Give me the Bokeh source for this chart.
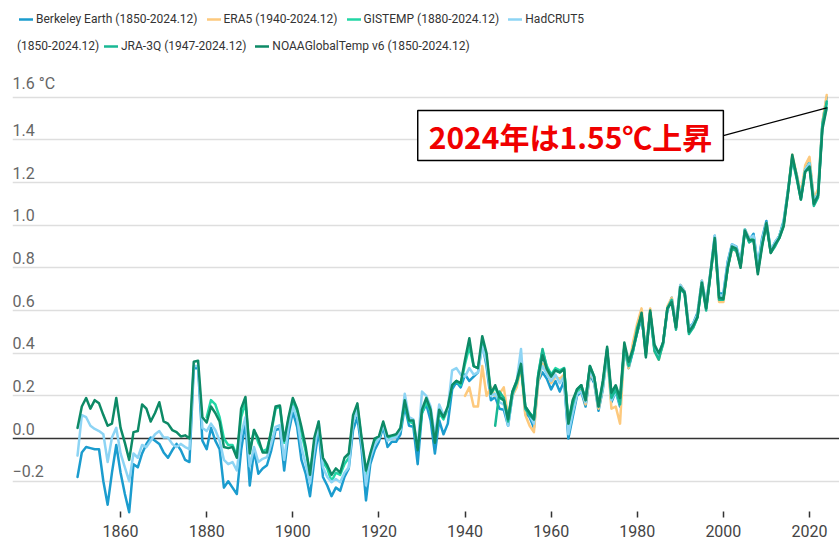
from bokeh.plotting import figure
from bokeh.models import (Legend, LegendItem, LabelSet, ColumnDataSource, Span,
                          Label, FixedTicker, Range1d, Grid)
from bokeh.embed import file_html
from bokeh.resources import INLINE
from bokeh.core.properties import value

# ---------------- data (annual anomalies, °C vs 1850-1900) ----------------
BERKELEY_START = 1850
BERKELEY = [
    -0.18, -0.065, -0.04, -0.045, -0.05, -0.05, -0.20, -0.31, -0.16, -0.03,
    -0.16, -0.26, -0.345, -0.12, -0.135, -0.07, -0.025, 0.005, -0.01, -0.025,
    -0.065, -0.09, -0.055, -0.025, -0.055, -0.10, -0.11, 0.33, 0.33, -0.01,
    -0.05, 0.05, -0.01, -0.05, -0.23, -0.20, -0.23, -0.26, -0.055, 0.08,
    -0.22, -0.055, -0.165, -0.14, -0.125, -0.055, 0.04, 0.047, -0.15, 0.024,
    0.126, 0.055, -0.10, -0.165, -0.27, -0.10, 0.04, -0.18, -0.22, -0.27,
    -0.23, -0.245, -0.18, -0.14, 0.04, 0.10, -0.055, -0.29, -0.12, -0.055,
    -0.015, 0.055, -0.04, -0.015, -0.015, 0.02, 0.15, 0.06, 0.055, -0.12,
    0.12, 0.16, 0.085, -0.07, 0.085, 0.02, 0.07, 0.23, 0.265, 0.24,
    0.30, 0.27, 0.29, 0.31, 0.445, 0.34, 0.18, 0.195, 0.14, 0.135,
    0.06, 0.20, 0.25, 0.37, 0.12, 0.10, 0.05, 0.27, 0.31, 0.28,
    0.23, 0.27, 0.22, 0.27, 0.0, 0.10, 0.20, 0.22, 0.15, 0.30,
    0.26, 0.13, 0.23, 0.40, 0.17, 0.22, 0.15, 0.42, 0.33, 0.41,
    0.50, 0.56, 0.42, 0.59, 0.42, 0.39, 0.45, 0.60, 0.66, 0.53,
    0.72, 0.69, 0.52, 0.54, 0.59, 0.74, 0.63, 0.78, 0.95, 0.68,
    0.68, 0.83, 0.91, 0.90, 0.83, 0.98, 0.93, 0.96, 0.81, 0.94,
    1.02, 0.88, 0.92, 0.95, 1.02, 1.16, 1.31, 1.24, 1.13, 1.26,
    1.30, 1.12, 1.16, 1.48, 1.60,
]

ERA5_START = 1940
ERA5 = [
    0.20, 0.24, 0.15, 0.15, 0.34, 0.20, 0.24, 0.20, 0.21, 0.24,
    0.10, 0.20, 0.24, 0.33, 0.11, 0.06, 0.03, 0.27, 0.35, 0.31,
    0.26, 0.29, 0.28, 0.30, 0.05, 0.13, 0.21, 0.24, 0.16, 0.31,
    0.27, 0.14, 0.24, 0.41, 0.14, 0.15, 0.07, 0.43, 0.33, 0.45,
    0.54, 0.61, 0.40, 0.61, 0.41, 0.37, 0.45, 0.62, 0.66, 0.52,
    0.72, 0.69, 0.51, 0.53, 0.58, 0.74, 0.61, 0.78, 0.93, 0.64,
    0.64, 0.80, 0.89, 0.88, 0.81, 0.98, 0.94, 0.94, 0.79, 0.91,
    1.01, 0.87, 0.91, 0.95, 1.00, 1.16, 1.33, 1.24, 1.15, 1.28,
    1.32, 1.12, 1.17, 1.48, 1.61,
]

GISTEMP_START = 1880
GISTEMP = [
    0.10, 0.18, 0.16, 0.10, 0.0, -0.03, -0.03, -0.08, 0.10, 0.17,
    -0.06, 0.04, -0.02, -0.06, -0.05, 0.03, 0.14, 0.15, -0.02, 0.09,
    0.17, 0.13, 0.03, -0.06, -0.16, -0.02, 0.06, -0.11, -0.14, -0.20,
    -0.16, -0.17, -0.12, -0.09, 0.09, 0.15, -0.01, -0.17, -0.08, -0.01,
    0.0, 0.07, 0.0, 0.01, 0.01, 0.04, 0.17, 0.08, 0.07, -0.05,
    0.12, 0.17, 0.13, -0.01, 0.12, 0.09, 0.14, 0.25, 0.27, 0.25,
    0.35, 0.43, 0.34, 0.33, 0.45, 0.38, 0.21, 0.24, 0.19, 0.18,
    0.10, 0.22, 0.27, 0.35, 0.15, 0.12, 0.10, 0.30, 0.41, 0.34,
    0.30, 0.33, 0.32, 0.33, 0.08, 0.17, 0.22, 0.24, 0.19, 0.33,
    0.28, 0.16, 0.25, 0.41, 0.20, 0.24, 0.18, 0.43, 0.35, 0.41,
    0.50, 0.58, 0.39, 0.59, 0.42, 0.38, 0.44, 0.61, 0.64, 0.52,
    0.71, 0.68, 0.50, 0.52, 0.57, 0.73, 0.61, 0.77, 0.92, 0.67,
    0.66, 0.80, 0.90, 0.89, 0.81, 0.98, 0.92, 0.94, 0.79, 0.92,
    1.01, 0.88, 0.91, 0.95, 1.01, 1.16, 1.32, 1.23, 1.13, 1.26,
    1.29, 1.11, 1.15, 1.47, 1.57,
]

HADCRUT5_START = 1850
HADCRUT5 = [
    -0.08, 0.11, 0.10, 0.06, 0.045, 0.035, 0.02, -0.11, 0.005, 0.05,
    -0.07, -0.135, -0.20, -0.07, -0.09, -0.03, -0.04, -0.01, 0.02, 0.035,
    0.005, 0.005, -0.025, -0.04, -0.025, -0.04, -0.05, 0.34, 0.34, 0.05,
    0.035, 0.07, 0.04, -0.01, -0.10, -0.12, -0.11, -0.15, 0.02, 0.10,
    -0.13, -0.04, -0.11, -0.095, -0.087, -0.024, 0.055, 0.063, -0.10, 0.055,
    0.15, 0.095, -0.04, -0.12, -0.21, -0.055, 0.08, -0.135, -0.18, -0.205,
    -0.19, -0.205, -0.16, -0.135, 0.08, 0.135, -0.024, -0.22, -0.09, -0.03,
    0.0, 0.07, -0.01, 0.0, 0.005, 0.04, 0.21, 0.10, 0.09, -0.05,
    0.22, 0.20, 0.15, 0.01, 0.16, 0.11, 0.14, 0.32, 0.33, 0.30,
    0.29, 0.33, 0.30, 0.31, 0.43, 0.36, 0.20, 0.21, 0.17, 0.16,
    0.06, 0.20, 0.27, 0.42, 0.14, 0.11, 0.07, 0.29, 0.34, 0.30,
    0.27, 0.30, 0.26, 0.29, 0.02, 0.12, 0.21, 0.22, 0.17, 0.32,
    0.27, 0.15, 0.24, 0.42, 0.18, 0.22, 0.16, 0.43, 0.34, 0.42,
    0.51, 0.57, 0.41, 0.59, 0.42, 0.39, 0.45, 0.61, 0.65, 0.53,
    0.72, 0.69, 0.51, 0.54, 0.58, 0.74, 0.62, 0.78, 0.95, 0.67,
    0.67, 0.82, 0.91, 0.90, 0.82, 0.98, 0.94, 0.95, 0.80, 0.93,
    1.01, 0.88, 0.92, 0.95, 1.01, 1.16, 1.31, 1.23, 1.13, 1.26,
    1.29, 1.11, 1.15, 1.46, 1.55,
]

JRA3Q_START = 1947
JRA3Q = [
    0.06, 0.22, 0.19,
    0.08, 0.21, 0.26, 0.34, 0.14, 0.11, 0.09, 0.30, 0.42, 0.33,
    0.30, 0.32, 0.31, 0.33, 0.07, 0.16, 0.23, 0.25, 0.18, 0.34,
    0.29, 0.15, 0.26, 0.42, 0.19, 0.23, 0.16, 0.43, 0.34, 0.41,
    0.52, 0.58, 0.40, 0.59, 0.41, 0.37, 0.45, 0.61, 0.65, 0.51,
    0.70, 0.68, 0.49, 0.52, 0.57, 0.73, 0.60, 0.77, 0.93, 0.65,
    0.65, 0.80, 0.89, 0.88, 0.81, 0.97, 0.92, 0.93, 0.78, 0.91,
    1.00, 0.87, 0.90, 0.94, 1.00, 1.15, 1.31, 1.22, 1.12, 1.25,
    1.27, 1.09, 1.13, 1.47, 1.58,
]

NOAA_START = 1850
NOAA = [
    0.05, 0.15, 0.19, 0.14, 0.18, 0.165, 0.11, 0.06, 0.07, 0.19,
    0.05, -0.02, -0.10, 0.03, 0.035, 0.16, 0.14, 0.08, 0.12, 0.17,
    0.08, 0.07, 0.04, 0.03, 0.01, 0.015, 0.0, 0.36, 0.365, 0.10,
    0.075, 0.15, 0.12, 0.08, -0.04, -0.045, -0.04, -0.09, 0.14, 0.195,
    -0.07, 0.04, 0.0, -0.065, -0.065, 0.04, 0.15, 0.155, -0.01, 0.10,
    0.19, 0.14, 0.055, -0.04, -0.17, 0.005, 0.08, -0.09, -0.125, -0.17,
    -0.14, -0.16, -0.09, -0.07, 0.11, 0.165, 0.0, -0.15, -0.07, 0.0,
    0.01, 0.08, 0.01, 0.015, 0.02, 0.05, 0.18, 0.085, 0.085, -0.055,
    0.135, 0.19, 0.135, -0.02, 0.135, 0.10, 0.15, 0.25, 0.27, 0.26,
    0.37, 0.47, 0.34, 0.33, 0.48, 0.40, 0.21, 0.25, 0.195, 0.18,
    0.09, 0.22, 0.27, 0.35, 0.15, 0.12, 0.09, 0.29, 0.39, 0.325,
    0.29, 0.32, 0.31, 0.325, 0.07, 0.18, 0.23, 0.25, 0.18, 0.34,
    0.29, 0.15, 0.27, 0.43, 0.215, 0.25, 0.19, 0.45, 0.36, 0.42,
    0.50, 0.59, 0.38, 0.60, 0.44, 0.40, 0.45, 0.61, 0.64, 0.52,
    0.71, 0.685, 0.50, 0.53, 0.57, 0.73, 0.61, 0.77, 0.94, 0.66,
    0.655, 0.80, 0.90, 0.89, 0.80, 0.975, 0.93, 0.93, 0.77, 0.90,
    1.01, 0.87, 0.91, 0.94, 0.995, 1.15, 1.33, 1.23, 1.12, 1.25,
    1.275, 1.10, 1.14, 1.45, 1.55,
]

SERIES_LABELS = ["Berkeley Earth (1850-2024.12)", "ERA5 (1940-2024.12)",
                 "GISTEMP (1880-2024.12)", "HadCRUT5", "JRA-3Q (1947-2024.12)",
                 "NOAAGlobalTemp v6 (1850-2024.12)"]
HADCRUT5_LABEL_CONT = "(1850-2024.12)"
SERIES_COLORS = ["#1b9cce", "#fdc97d", "#22d6a5", "#8dd4f4", "#19b894", "#0d8a66"]

X_TICKS = [1860, 1880, 1900, 1920, 1940, 1960, 1980, 2000, 2020]
Y_GRID = [-0.2, 0.2, 0.4, 0.6, 0.8, 1.0, 1.2, 1.4, 1.6]
Y_LABEL_VALUES = [-0.2, 0.0, 0.2, 0.4, 0.6, 0.8, 1.0, 1.2, 1.4, 1.6]
Y_LABEL_TEXTS = ["\u22120.2", "0.0", "0.2", "0.4", "0.6", "0.8", "1.0", "1.2", "1.4", "1.6 \u00b0C"]

ANNOT_TEXT = "2024年は1.55℃上昇"

# ---------------- figure ----------------
p = figure(width=839, height=558, output_backend="svg", toolbar_location=None,
           x_range=Range1d(1834.9, 2026.97), y_range=Range1d(-0.370, 2.053),
           y_axis_location=None, min_border_left=12, min_border_right=0,
           min_border_top=0, min_border_bottom=41)
p.outline_line_color = None
p.background_fill_color = "white"
p.border_fill_color = "white"
for g in p.xgrid:
    g.visible = False
for g in p.ygrid:
    g.visible = False
p.add_layout(Grid(dimension=1, ticker=FixedTicker(ticks=Y_GRID),
                  grid_line_color="#dedede", grid_line_width=1.5))
p.add_layout(Span(location=0, dimension="width", line_color="#333333",
                  line_width=1.5, level="underlay"))

ax = p.xaxis[0]
ax.ticker = FixedTicker(ticks=X_TICKS)
ax.axis_line_color = None
ax.major_tick_in = 6
ax.major_tick_out = 0
ax.major_tick_line_color = "#333333"
ax.major_tick_line_width = 1.5
ax.minor_tick_line_color = None
ax.major_label_text_font = "Roboto"
ax.major_label_text_font_size = "16px"
ax.major_label_text_color = "#444444"
ax.major_label_standoff = 7

ysrc = ColumnDataSource(dict(y=Y_LABEL_VALUES, text=Y_LABEL_TEXTS))
p.add_layout(LabelSet(x=0, y="y", x_units="screen", text="text", source=ysrc,
                      y_offset=4, text_baseline="bottom", text_align="left",
                      text_font=value("Roboto"), text_font_size="16px",
                      text_color="#666666"))

all_series = [(BERKELEY_START, BERKELEY), (ERA5_START, ERA5), (GISTEMP_START, GISTEMP),
              (HADCRUT5_START, HADCRUT5), (JRA3Q_START, JRA3Q), (NOAA_START, NOAA)]
renderers = []
for (start, vals), col in zip(all_series, SERIES_COLORS):
    yrs = list(range(start, start + len(vals)))
    r = p.line(x=yrs, y=vals, line_color=col, line_width=2.5,
               line_join="round", line_cap="round")
    renderers.append(r)

# annotation box + leader line
noaa_years = list(range(NOAA_START, NOAA_START + len(NOAA)))
BOX_X, BOX_Y = 2000.0, 1.42
p.segment(x0=[BOX_X], y0=[BOX_Y], x1=[noaa_years[-1]], y1=[NOAA[-1]],
          line_color="black", line_width=1.3)
common = dict(x=BOX_X, y=BOX_Y, text=ANNOT_TEXT, text_align="right",
              text_baseline="middle", text_font="Noto Sans CJK JP",
              text_font_style="bold", text_font_size="30px", padding=(11, 3))
p.add_layout(Label(text_alpha=0, background_fill_color="#777777",
                   background_fill_alpha=0.45, x_offset=2, y_offset=-2, **common))
p.add_layout(Label(text_color="#f00000", background_fill_color="white",
                   border_line_color="black", border_line_width=1.5, **common))

# legends (wrapped in two rows like the original)
def add_legend(items, loc, **kw):
    opts = dict(orientation="horizontal", padding=0, margin=0, spacing=9,
                border_line_alpha=0, background_fill_alpha=0,
                label_text_font="Roboto", label_text_font_size="12px",
                label_text_color="#333333", glyph_width=14, glyph_height=20,
                label_height=20, label_standoff=3)
    opts.update(kw)
    p.add_layout(Legend(items=items, location=loc, **opts), "center")

add_legend([LegendItem(label=SERIES_LABELS[i], renderers=[renderers[i]]) for i in range(4)],
           (7, 488))
add_legend([LegendItem(label=HADCRUT5_LABEL_CONT, renderers=[renderers[3]])],
           (5, 461), glyph_width=0, label_standoff=0)
add_legend([LegendItem(label=SERIES_LABELS[i], renderers=[renderers[i]]) for i in (4, 5)],
           (92, 461))

open("out.html", "w").write(file_html(p, INLINE))
